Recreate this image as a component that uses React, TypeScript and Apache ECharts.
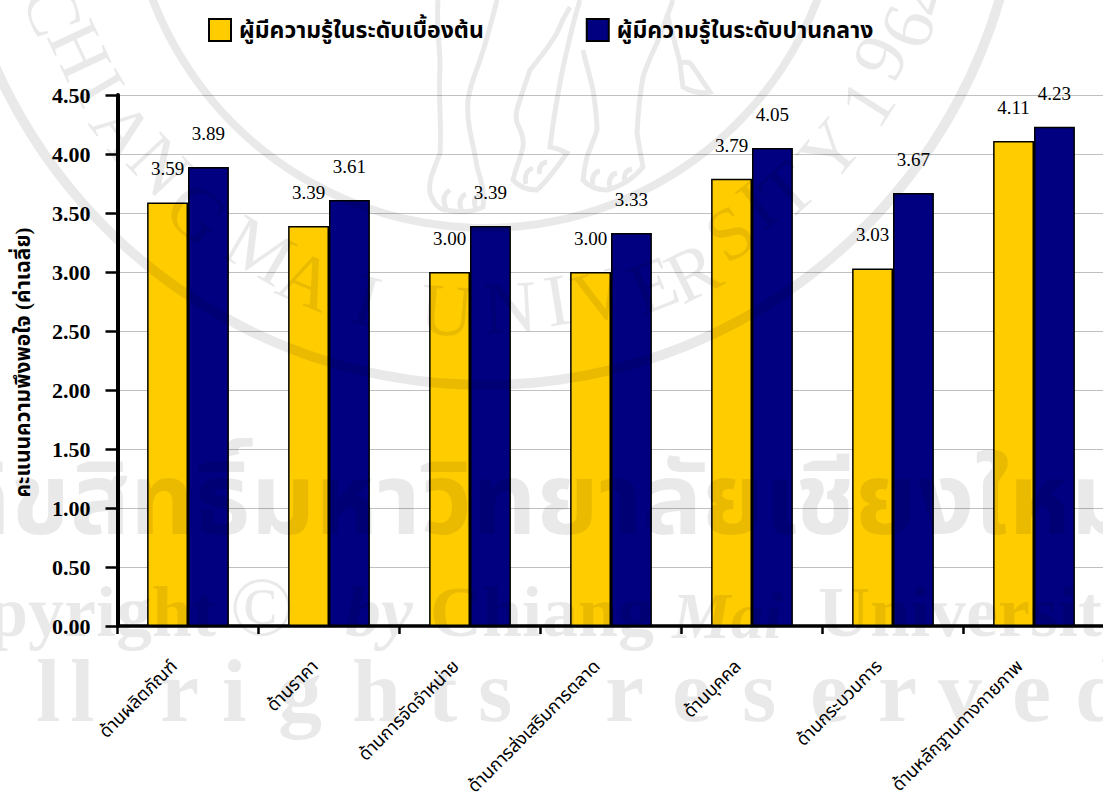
import React, { useEffect, useRef } from "react";
import * as echarts from "echarts";

const categories = [
  "ด้านผลิตภัณฑ์",
  "ด้านราคา",
  "ด้านการจัดจำหน่าย",
  "ด้านการส่งเสริมการตลาด",
  "ด้านบุคคล",
  "ด้านกระบวนการ",
  "ด้านหลักฐานทางกายภาพ",
];
const basicLevel = [3.59, 3.39, 3.0, 3.0, 3.79, 3.03, 4.11];
const middleLevel = [3.89, 3.61, 3.39, 3.33, 4.05, 3.67, 4.23];
const basicName = "ผู้มีความรู้ในระดับเบื้องต้น";
const middleName = "ผู้มีความรู้ในระดับปานกลาง";
const axisTitle = "คะแนนความพึงพอใจ (ค่าเฉลี่ย)";

const SERIF = '"Liberation Serif", "Noto Sans Thai", "DejaVu Serif", serif';
const INK = "rgba(0,0,0,0.085)";

// University seal printed over the page: rings, curved lettering and the elephant's legs.
const sealCentre = { x: 485, y: -140 };
const sealRings = [
  { cy: -128, r: 356, w: 8 },
  { cy: -151, r: 536, w: 10 },
];
const sealLetters: [string, number, number][] = [
  ["C", 53, 10], ["H", 80, 50], ["I", 100, 88], ["A", 123, 130], ["N", 160, 165], ["G", 197, 213],
  ["M", 260, 250], ["A", 307, 280], ["I", 367, 300],
  ["U", 447, 310], ["N", 510, 307], ["I", 557, 300], ["V", 600, 295], ["E", 653, 285], ["R", 693, 272],
  ["S", 730, 233], ["I", 757, 205], ["T", 787, 190], ["Y", 830, 150],
  ["1", 867, 103], ["9", 880, 57], ["6", 907, 27], ["4", 923, -5],
];
const elephantPath =
  // left foreleg and toes
  "M438 0C436 25 440 45 440 67C438 95 442 125 440 153C434 170 428 180 430 193C434 205 440 210 447 210C460 213 473 212 483 207" +
  "C485 190 480 178 477 167C474 145 466 125 468 100C470 85 476 72 480 60C487 40 492 20 497 0" +
  "M446 208C442 200 444 194 450 190M462 211C458 203 460 197 466 194M476 209C473 202 474 197 480 194" +
  // inner foreleg
  "M570 7C565 15 560 25 557 33C548 48 540 58 530 70C526 82 523 90 520 100C516 110 515 116 517 123C522 132 524 140 523 147" +
  "C520 160 515 170 513 180C520 188 528 190 537 190C548 180 558 166 567 153C561 150 556 148 550 147C552 132 554 116 557 100" +
  "C560 82 563 66 567 50C571 32 575 16 580 0" +
  "M526 184C524 176 527 170 533 168M540 174C538 168 541 163 547 162" +
  // hind leg
  "M583 50C586 64 590 76 593 90C595 104 597 116 597 130C594 140 590 148 587 157C585 165 584 172 583 180C590 188 598 190 607 190" +
  "C622 186 634 178 643 167C641 156 639 146 637 133C638 114 640 94 643 77C647 64 652 54 657 43C663 28 668 14 673 0" +
  "M593 186C591 178 594 172 600 171M610 188C608 180 611 174 617 173M625 182C623 175 626 170 632 169" +
  // tail and tuft
  "M667 13C671 30 676 46 680 63C681 72 682 80 683 87C692 92 701 94 710 92C703 82 697 72 690 63C686 62 683 62 680 63";

const copyrightWords: [string, number, string, number][] = [
  ["Copyright", -100, "bold", 72], ["©", 230, "normal", 84], ["by", 345, "italic bold", 72],
  ["Chiang", 430, "bold", 72], ["Mai", 672, "italic bold", 66], ["University", 818, "bold", 72],
];
const reservedLetters: [string, number][] = [
  ["l", 36], ["l", 70], ["r", 160], ["i", 222], ["g", 278], ["h", 352], ["t", 428], ["s", 478],
  ["r", 605], ["e", 672], ["s", 742], ["e", 810], ["r", 878], ["v", 938], ["e", 1012], ["d", 1075],
];

echarts.graphic.registerShape("sealElephant", echarts.graphic.extendPath(elephantPath, {}));

function sealGraphics(): any[] {
  const out: any[] = [];
  sealRings.forEach((ring) =>
    out.push({
      type: "circle", silent: true, z: 100,
      shape: { cx: sealCentre.x, cy: ring.cy, r: ring.r },
      style: { fill: "none", stroke: INK, lineWidth: ring.w },
    })
  );
  sealLetters.forEach(([ch, x, y]) => {
    // Each letter's foot faces away from the seal's centre.
    const turn = Math.atan2(y - sealCentre.y, x - sealCentre.x) - Math.PI / 2;
    out.push({
      type: "text", silent: true, z: 100,
      x, y,
      rotation: -turn,
      style: { text: ch, fill: INK, font: `74px ${SERIF}`, textAlign: "center", textVerticalAlign: "middle" },
    });
  });
  out.push({
    type: "sealElephant", silent: true, z: 100,
    style: { fill: "none", stroke: INK, lineWidth: 5 },
  });
  return out;
}

function pageGraphics(): any[] {
  const out: any[] = sealGraphics();
  out.push({
    type: "text", silent: true, z: 100, x: 1135, y: 550,
    style: { text: "ลิขสิทธิ์มหาวิทยาลัยเชียงใหม่", fill: INK, font: `bold 100px ${SERIF}`, textAlign: "right", textVerticalAlign: "bottom" },
  });
  copyrightWords.forEach(([word, x, weight, size]) =>
    out.push({
      type: "text", silent: true, z: 100, x, y: 648,
      style: { text: word, fill: INK, font: `${weight} ${size}px ${SERIF}`, textVerticalAlign: "bottom" },
    })
  );
  reservedLetters.forEach(([ch, x]) =>
    out.push({
      type: "text", silent: true, z: 100, x, y: 735,
      style: { text: ch, fill: INK, font: `bold 88px ${SERIF}`, textVerticalAlign: "bottom" },
    })
  );
  return out;
}

export default function App() {
  const ref = useRef<HTMLDivElement>(null);

  useEffect(() => {
    const chart = echarts.init(ref.current!, undefined, { renderer: "svg" });
    const barLabel = {
      show: true,
      position: "top" as const,
      distance: 24,
      color: "#000",
      fontFamily: SERIF,
      fontSize: 19,
      formatter: (p: any) => p.value.toFixed(2),
    };
    chart.setOption({
      animation: false,
      backgroundColor: "#fff",
      textStyle: { fontFamily: SERIF },
      legend: {
        left: 203,
        top: 13,
        itemWidth: 22,
        itemHeight: 22,
        itemGap: 102,
        icon: "rect",
        textStyle: { fontFamily: SERIF, fontWeight: "bold", fontSize: 23, color: "#000", padding: [5, 0, 0, 3] },
      },
      grid: { left: 117.5, right: -1.5, top: 95, height: 531, outerBoundsMode: "none" },
      xAxis: {
        type: "category",
        data: categories,
        axisLine: { lineStyle: { color: "#000", width: 3.5 } },
        axisTick: { show: true, alignWithLabel: false, length: 8, lineStyle: { color: "#000", width: 2.5 } },
        axisLabel: { interval: 0, rotate: 45, margin: 23, padding: [0, 20, 0, 0], fontFamily: SERIF, fontSize: 18, color: "#000" },
      },
      yAxis: {
        type: "value",
        min: 0,
        max: 4.5,
        interval: 0.5,
        name: axisTitle,
        nameLocation: "middle",
        nameRotate: 90,
        nameGap: 84,
        nameTextStyle: { fontFamily: SERIF, fontWeight: "bold", fontSize: 21, color: "#000", padding: [0, 4, 0, 0] },
        axisLine: { show: true, lineStyle: { color: "#000", width: 4 } },
        axisTick: { show: true, length: 12, lineStyle: { color: "#000", width: 2.5 } },
        axisLabel: { margin: 27, padding: [5, 0, 0, 0], fontFamily: SERIF, fontWeight: "bold", fontSize: 22, color: "#000", formatter: (v: number) => v.toFixed(2) },
        splitLine: { show: true, lineStyle: { color: "#c0c0c0", width: 1 } },
      },
      series: [
        {
          name: basicName, type: "bar", data: basicLevel, barGap: 0, barCategoryGap: "42%",
          itemStyle: { color: "#ffcc00", borderColor: "#000", borderWidth: 1.5 },
          label: barLabel,
        },
        {
          name: middleName, type: "bar", data: middleLevel,
          itemStyle: { color: "#000080", borderColor: "#000", borderWidth: 1.5 },
          label: barLabel,
        },
      ],
      graphic: { elements: pageGraphics() },
    });
    return () => chart.dispose();
  }, []);

  return <div ref={ref} style={{ position: "absolute", left: 0, top: 0, width: 1103, height: 794 }} />;
}
